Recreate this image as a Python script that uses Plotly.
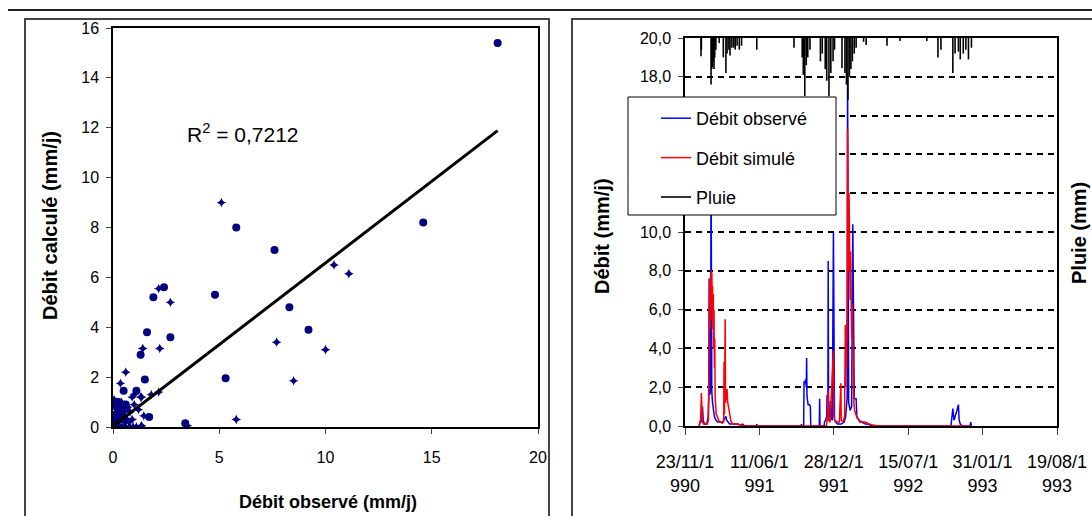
import plotly.graph_objects as go
import pandas as pd

# ---------------- Left chart: observed vs calculated ----------------
obs_big = [18.1, 14.6, 7.6, 5.8, 1.9, 2.4, 4.8, 8.3, 1.6, 2.7, 9.2, 1.3, 1.5, 5.3, 0.5, 1.1, 1.7, 3.4,
           0.1, 0.2, 0.3, 0.45, 0.6, 0.25, 0.35, 0.5, 0.08, 0.15]
calc_big = [15.4, 8.2, 7.1, 8.0, 5.2, 5.6, 5.3, 4.8, 3.8, 3.6, 3.9, 2.9, 1.9, 1.95, 1.45, 1.45, 0.4, 0.15,
            0.2, 0.5, 0.8, 0.7, 0.9, 1.0, 0.3, 0.4, 0.9, 0.4]
obs_small = [5.1, 10.4, 11.1, 2.15, 2.7, 7.7, 10.0, 2.2, 1.4, 0.6, 0.35, 8.5, 1.35, 2.15, 1.8, 1.45, 3.5, 5.8,
             0.05, 0.1, 0.15, 0.2, 0.3, 0.4, 0.5, 0.6, 0.8, 0.95, 1.1, 1.3, 1.35, 0.05, 0.1, 0.1, 0.15,
             0.05, 0.2, 0.25, 0.3, 0.35, 0.4, 0.45, 0.5, 0.55, 0.6, 0.65, 0.7, 0.75, 0.8, 0.9, 1.0, 0.2,
             0.3, 0.15, 0.4, 0.55, 0.9, 1.2, 1.0, 1.3, 0.12, 0.08]
calc_small = [9.0, 6.5, 6.15, 5.55, 5.0, 3.4, 3.1, 3.15, 3.15, 2.2, 1.75, 1.85, 1.2, 1.4, 1.3, 0.45, 0.05, 0.3,
              0.0, 0.05, 0.1, 0.0, 0.0, 0.0, 0.0, 0.0, 0.0, 0.0, 0.0, 0.0, 0.05, 0.3, 0.5, 0.8, 1.0,
              1.1, 0.7, 0.4, 0.9, 0.6, 0.3, 0.8, 0.5, 0.9, 0.7, 0.3, 0.8, 0.2, 0.6, 1.2, 0.9, 0.2,
              0.25, 0.6, 1.0, 0.2, 0.3, 0.7, 1.3, 1.2, 0.15, 0.05]
trend_slope = 0.655
trend_intercept = 0.03
r2_text = "R<sup>2</sup> = 0,7212"

# ---------------- Right chart: hydrograph ----------------
start_date = "1990-11-23"
obs_days = [38, 40, 42, 45, 47, 49, 52, 58, 62, 64, 65, 66, 67, 68, 69, 70, 71, 72, 74, 76, 79, 83, 88, 95,
            100, 104, 107, 110, 112, 115, 120, 130, 140, 150, 155, 160, 192, 193, 194, 312, 313, 314,
            319, 320, 322, 324, 326, 327, 328, 329, 331, 333, 335, 337, 338, 361, 362, 363, 374, 375,
            378, 381, 382, 383, 384, 385, 386, 389, 391, 393, 396, 399, 400, 402, 405, 410, 420, 428,
            432, 434, 436, 437, 438, 440, 444, 448, 451, 452, 453, 455, 458, 460, 462, 466, 470, 475,
            480, 485, 490, 500, 505, 715, 716, 720, 723, 727, 731, 735, 737, 740, 745, 766, 767, 768, 770]
obs_flow = [0.0, 0.1, 0.3, 0.2, 1.0, 0.3, 0.1, 0.1, 0.4, 1.5, 7.6, 7.4, 1.6, 2.0, 1.7, 14.6, 3.5, 1.8, 1.2,
            0.9, 0.5, 0.3, 0.2, 0.2, 0.15, 0.3, 0.4, 0.5, 0.3, 0.2, 0.1, 0.1, 0.1, 0.05, 0.1, 0.0, 0.0,
            0.1, 0.0, 0.0, 0.1, 0.0, 0.0, 2.3, 2.2, 2.4, 2.0, 3.5, 1.5, 1.1, 1.1, 1.1, 1.1, 1.0, 0.0,
            0.0, 1.4, 0.0, 0.0, 0.2, 0.3, 0.5, 1.6, 0.4, 0.3, 8.5, 0.6, 0.3, 1.3, 0.4, 0.3, 10.0, 0.7,
            0.3, 0.2, 0.1, 0.1, 0.2, 0.5, 1.0, 1.5, 18.2, 2.0, 1.2, 0.8, 1.0, 10.4, 8.3, 2.0, 1.4, 1.4,
            1.4, 0.5, 0.3, 0.2, 0.2, 0.15, 0.1, 0.1, 0.05, 0.0, 0.0, 0.3, 0.9, 0.3, 0.5, 0.8, 1.1, 0.3,
            0.1, 0.0, 0.0, 0.2, 0.2, 0.0]
sim_days = [38, 40, 42, 44, 45, 47, 50, 60, 63, 64, 65, 66, 67, 68, 69, 70, 71, 72, 73, 74, 75, 76, 77,
            78, 79, 80, 81, 82, 84, 87, 90, 94, 98, 104, 105, 106, 108, 109, 111, 113, 115, 117, 119,
            121, 124, 130, 140, 150, 160, 380, 382, 385, 386, 390, 399, 400, 403, 408, 415, 419, 420,
            425, 429, 431, 432, 433, 434, 435, 436, 437, 438, 439, 440, 441, 442, 443, 444, 445, 446,
            447, 448, 449, 450, 451, 452, 453, 454, 456, 459, 463, 468, 475, 485, 495, 505, 520, 767, 770]
sim_flow = [0.0, 0.1, 0.3, 1.7, 0.3, 0.2, 0.1, 0.1, 0.3, 7.0, 4.5, 7.6, 5.0, 7.8, 6.0, 8.0, 6.5, 7.9,
            5.5, 7.2, 5.0, 6.8, 4.0, 6.0, 3.0, 4.5, 1.5, 1.0, 0.6, 0.5, 0.3, 0.2, 0.2, 0.2, 3.3, 0.6,
            5.5, 1.2, 1.5, 1.9, 1.2, 1.0, 0.8, 0.4, 0.2, 0.1, 0.1, 0.05, 0.0, 0.0, 0.3, 1.8, 0.3, 0.2,
            3.9, 0.5, 0.3, 0.2, 0.2, 2.2, 0.3, 0.2, 0.5, 5.2, 2.0, 5.2, 3.0, 5.3, 6.0, 15.3, 9.4, 12.0,
            8.0, 12.0, 7.0, 11.5, 6.5, 9.0, 5.5, 6.3, 4.5, 6.3, 4.8, 3.5, 4.8, 2.0, 1.2, 0.8, 0.6, 0.4,
            0.3, 0.2, 0.2, 0.1, 0.05, 0.0, 0.0, 0.0]
rain_days = [43, 44, 70, 72, 74, 76, 78, 80, 83, 92, 103, 110, 113, 118, 121, 126, 131, 135, 140, 146,
             152, 193, 293, 315, 318, 322, 326, 330, 336, 364, 369, 377, 381, 387, 392, 398, 402, 422,
             430, 434, 438, 442, 446, 450, 455, 460, 480, 487, 543, 578, 650, 680, 688, 720, 726, 735,
             740, 748, 755, 762, 770]
rain_mm = [4.7, 3.0, 12.0, 8.0, 7.5, 6.0, 8.0, 5.0, 3.0, 1.3, 5.0, 9.0, 4.0, 3.0, 4.5, 2.5, 2.5, 3.0,
           2.0, 3.0, 2.0, 3.0, 2.5, 5.0, 9.5, 15.0, 7.0, 5.0, 3.0, 6.0, 4.0, 8.0, 11.0, 15.0, 9.0, 6.0,
           3.0, 7.7, 9.0, 12.0, 16.0, 10.0, 8.0, 6.0, 4.0, 2.5, 1.0, 1.8, 2.0, 0.8, 0.8, 5.0, 3.0, 9.0,
           4.0, 3.5, 5.5, 4.0, 3.0, 5.5, 2.5]
tick_dates = ["1990-11-23", "1991-06-11", "1991-12-28", "1992-07-15", "1993-01-31", "1993-08-19"]
tick_labels = ["23/11/1<br>990", "11/06/1<br>991", "28/12/1<br>991", "15/07/1<br>992",
               "31/01/1<br>993", "19/08/1<br>993"]

W, H = 1092, 516
FONT = "Liberation Sans, Arial, sans-serif"
NAVY = "#000080"


def px(x):
    return x / W


def py(y):
    return 1 - y / H


def to_dates(days):
    base = pd.Timestamp(start_date)
    return [(base + pd.Timedelta(days=d)).strftime("%Y-%m-%d") for d in days]


fig = go.Figure()

# scatter
fig.add_trace(go.Scatter(x=obs_small, y=calc_small, mode="markers", showlegend=False,
                         marker=dict(symbol="star-diamond", size=7, color=NAVY),
                         xaxis="x", yaxis="y"))
fig.add_trace(go.Scatter(x=obs_big, y=calc_big, mode="markers", showlegend=False,
                         marker=dict(symbol="circle", size=8, color=NAVY),
                         xaxis="x", yaxis="y"))
tx = [0, max(obs_big + obs_small)]
fig.add_trace(go.Scatter(x=tx, y=[trend_intercept + trend_slope * v for v in tx], mode="lines",
                         showlegend=False, line=dict(color="black", width=3), xaxis="x", yaxis="y"))

# hydrograph
fig.add_trace(go.Scatter(x=to_dates(obs_days), y=obs_flow, mode="lines", name="Débit observé",
                         legendgroup="a", line=dict(color="#0000ff", width=1.5),
                         xaxis="x2", yaxis="y2"))
fig.add_trace(go.Scatter(x=to_dates(sim_days), y=sim_flow, mode="lines", name="Débit simulé",
                         legendgroup="b", line=dict(color="#ff0000", width=1.5),
                         xaxis="x2", yaxis="y2"))
rx, ry = [], []
for d, v in zip(to_dates(rain_days), rain_mm):
    rx += [d, d, None]
    ry += [0, v, None]
fig.add_trace(go.Scatter(x=rx, y=ry, mode="lines", name="Pluie", legendgroup="c",
                         line=dict(color="black", width=1.6), xaxis="x2", yaxis="y3"))

tickfont = dict(family=FONT, size=16, color="black")
fig.update_layout(
    width=W, height=H, margin=dict(l=0, r=0, t=0, b=0, autoexpand=False),
    paper_bgcolor="white", plot_bgcolor="white", separators=", ",
    xaxis=dict(domain=[px(113), px(538)], range=[0, 20], dtick=5, ticks="outside", ticklen=5,
               showline=True, mirror=True, linecolor="black", linewidth=1.5, showgrid=False,
               zeroline=False, tickfont=tickfont, ticklabelstandoff=10, automargin=False,
               tickangle=0),
    yaxis=dict(domain=[py(427), py(28)], range=[0, 16], dtick=2, ticks="outside", ticklen=5,
               showline=True, mirror=True, linecolor="black", linewidth=1.5, showgrid=False,
               zeroline=False, tickfont=tickfont, ticklabelstandoff=4, automargin=False),
    xaxis2=dict(domain=[px(685), px(1057)], type="date", range=[tick_dates[0], tick_dates[-1]],
                tickvals=tick_dates, ticktext=tick_labels, ticks="outside", ticklen=7,
                showline=True, mirror=True, linecolor="black", linewidth=1.5, showgrid=False,
                zeroline=False, anchor="y2", tickfont=dict(family=FONT, size=18, color="black"),
                ticklabelstandoff=12, automargin=False, tickangle=0),
    yaxis2=dict(domain=[py(426), py(38)], range=[0, 20], dtick=2, tickformat=".1f",
                ticks="outside", ticklen=5, showline=True, mirror=True, linecolor="black",
                linewidth=1.5, showgrid=True, gridcolor="black", gridwidth=1.5,
                griddash="6px,5px", zeroline=False, anchor="x2", tickfont=tickfont,
                ticklabelstandoff=4, automargin=False),
    yaxis3=dict(overlaying="y2", side="right", range=[100, 0], showticklabels=False,
                showgrid=False, zeroline=False, showline=False, ticks="", anchor="x2",
                automargin=False),
    legend=dict(x=px(656), y=py(100), xanchor="left", yanchor="top", bgcolor="rgba(0,0,0,0)",
                borderwidth=0, font=dict(family=FONT, size=18, color="black"),
                tracegroupgap=13, traceorder="grouped"),
    showlegend=True,
)

shapes = [
    dict(type="line", xref="paper", yref="paper", x0=px(8), x1=1, y0=py(10), y1=py(10),
         line=dict(color="#222", width=2)),
    dict(type="rect", xref="paper", yref="paper", x0=px(25), x1=px(549), y0=-0.1, y1=py(19),
         line=dict(color="#444", width=2)),
    dict(type="rect", xref="paper", yref="paper", x0=px(572), x1=1.1, y0=-0.1, y1=py(19),
         line=dict(color="#444", width=2)),
    dict(type="rect", xref="paper", yref="paper", x0=px(628), x1=px(836), y0=py(215), y1=py(97),
         line=dict(color="black", width=1), fillcolor="white", layer="above"),
]
fig.update_layout(shapes=shapes)

hbold = dict(family=FONT, size=18, color="black")
vbold = dict(family=FONT, size=20, color="black")
anns = [
    dict(text="<b>Débit observé (mm/j)</b>", x=px(328), y=py(502), xref="paper", yref="paper",
         xanchor="center", yanchor="middle", showarrow=False, font=hbold),
    dict(text="<b>Débit calculé (mm/j)</b>", x=px(50), y=py(226), xref="paper", yref="paper",
         xanchor="center", yanchor="middle", showarrow=False, font=vbold, textangle=-90),
    dict(text="<b>Débit (mm/j)</b>", x=px(602), y=py(236), xref="paper", yref="paper",
         xanchor="center", yanchor="middle", showarrow=False, font=vbold, textangle=-90),
    dict(text="<b>Pluie (mm)</b>", x=px(1079), y=py(233), xref="paper", yref="paper",
         xanchor="center", yanchor="middle", showarrow=False, font=vbold, textangle=-90),
    dict(text=r2_text, x=6.1, y=11.8, xref="x", yref="y", xanchor="center", yanchor="middle",
         showarrow=False, font=dict(family=FONT, size=21, color="black")),
]
fig.update_layout(annotations=anns)

fig.write_html("out.html")
